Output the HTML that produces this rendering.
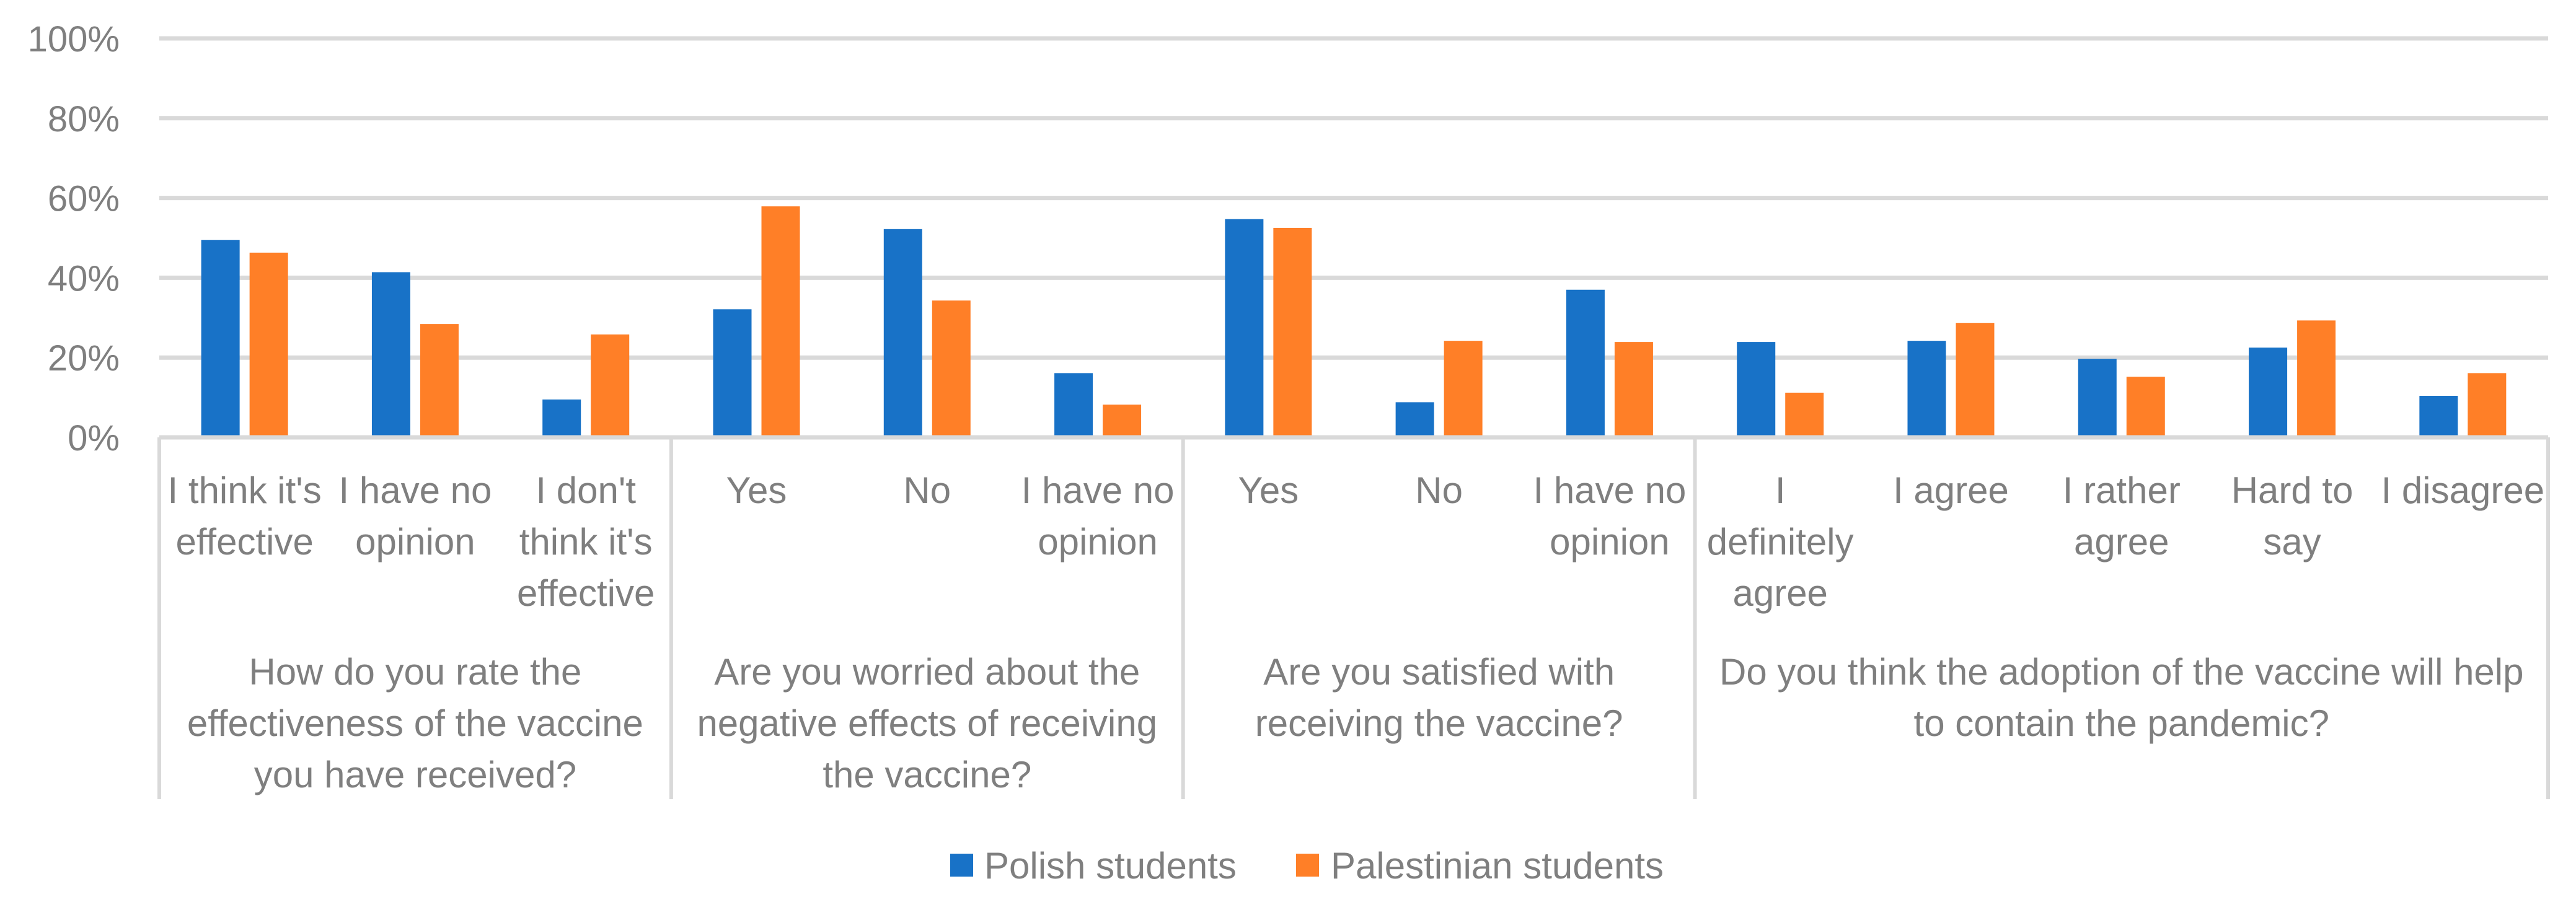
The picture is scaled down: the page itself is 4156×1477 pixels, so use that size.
<!DOCTYPE html>
<html><head><meta charset="utf-8"><style>
html,body{margin:0;padding:0;background:#fff;}
svg text{font-family:"Liberation Sans",sans-serif;fill:#7f7f7f;}
</style></head><body>
<svg id="chart" xmlns="http://www.w3.org/2000/svg" width="4156" height="1472" viewBox="0 0 4156 1472">
<g id="grid"></g>
<g id="yaxis"></g>
<g id="bars"></g>
<g id="xaxis"></g>
<g id="legend">
  <rect x="1533" y="1378" width="37" height="37" fill="#1872c7"/>
  <text x="1588" y="1418" font-size="60">Polish students</text>
  <rect x="2091" y="1378" width="37" height="37" fill="#ff7f27"/>
  <text x="2147" y="1418" font-size="60">Palestinian students</text>
</g>
</svg>
<script>
const categories = [["I think it's","effective"],["I have no","opinion"],["I don't","think it's","effective"],["Yes"],["No"],["I have no","opinion"],["Yes"],["No"],["I have no","opinion"],["I","definitely","agree"],["I agree"],["I rather","agree"],["Hard to","say"],["I disagree"]];
const polish = [49.5,41.4,9.5,32.1,52.2,16.1,54.7,8.8,37.0,23.9,24.2,19.7,22.5,10.4];
const palestinian = [46.3,28.4,25.8,57.9,34.3,8.2,52.5,24.2,23.9,11.2,28.7,15.2,29.3,16.1];
const groups = [["How do you rate the","effectiveness of the vaccine","you have received?"],["Are you worried about the","negative effects of receiving","the vaccine?"],["Are you satisfied with","receiving the vaccine?"],["Do you think the adoption of the vaccine will help","to contain the pandemic?"]];
const groupSizes = [3,3,3,5];
const yTicks = [0,20,40,60,80,100];
const yTickLabels = ["0%","20%","40%","60%","80%","100%"];

const NS="http://www.w3.org/2000/svg";
const X0=257, X1=4111, Y0=706, Y100=62;
const cw=(X1-X0)/categories.length;
const y=v=>Y0-(v/100)*(Y0-Y100);
const cx=i=>X0+(i+0.5)*cw;
function mk(tag,attrs,parent){const e=document.createElementNS(NS,tag);for(const k in attrs)e.setAttribute(k,attrs[k]);parent.appendChild(e);return e;}
const grid=document.getElementById('grid'),yaxis=document.getElementById('yaxis'),bars=document.getElementById('bars'),xaxis=document.getElementById('xaxis');
yTicks.forEach((t,i)=>{
  const l=mk('line',{x1:X0,x2:X1,y1:y(t),y2:y(t),stroke:'#d9d9d9','stroke-width':7},grid);
  
  
  const tx=mk('text',{x:193,y:y(t)+21,'text-anchor':'end','font-size':58},yaxis);
  tx.textContent=yTickLabels[i];
  
  
});
categories.forEach((c,i)=>{
  const b=mk('rect',{x:cx(i)-70,y:y(polish[i]),width:62,height:Y0-y(polish[i]),fill:'#1872c7'},bars);
  
  
  const o=mk('rect',{x:cx(i)+8,y:y(palestinian[i]),width:62,height:Y0-y(palestinian[i]),fill:'#ff7f27'},bars);
  
  
  const t=mk('text',{x:cx(i),'text-anchor':'middle','font-size':60},xaxis);
  
  
  c.forEach((line,j)=>{const s=mk('tspan',{x:cx(i),y:812+j*83},t);s.textContent=line;});
});
// axes & separators
const base=mk('line',{x1:X0,x2:X1,y1:Y0,y2:Y0,stroke:'#d9d9d9','stroke-width':7},xaxis);


let start=0;
const sepAt=[0];
groupSizes.forEach(n=>{start+=n;sepAt.push(start);});
sepAt.forEach(k=>{
  const xx=X0+k*cw;
  const s=mk('line',{x1:xx,x2:xx,y1:Y0,y2:1290,stroke:'#d9d9d9','stroke-width':6},xaxis);
  
  
});
groups.forEach((g,gi)=>{
  const mid=X0+(sepAt[gi]+sepAt[gi+1])/2*cw;
  const t=mk('text',{x:mid,'text-anchor':'middle','font-size':60},xaxis);
  
  
  g.forEach((line,j)=>{const s=mk('tspan',{x:mid,y:1105+j*83},t);s.textContent=line;});
});
</script>
</body></html>
